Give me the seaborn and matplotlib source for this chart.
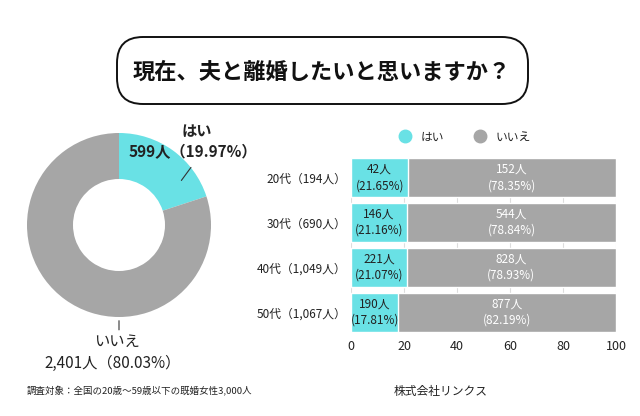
import seaborn as sns
import matplotlib.pyplot as plt
import pandas as pd
from matplotlib.patches import FancyBboxPatch
from matplotlib.lines import Line2D

# Data
pie_labels = ["はい", "いいえ"]
pie_counts = [599, 2401]
pie_pcts = [19.97, 80.03]

ages = ["20代（194人）", "30代（690人）", "40代（1,049人）", "50代（1,067人）"]
yes_counts = [42, 146, 221, 190]
no_counts = [152, 544, 828, 877]
yes_pct = [21.65, 21.16, 21.07, 17.81]
no_pct = [78.35, 78.84, 78.93, 82.19]

CYAN = "#69e1e5"
GRAY = "#a6a6a6"
DARK = "#222222"

sns.set_theme(style="white")
plt.rcParams["font.family"] = ["Noto Sans CJK JP", "DejaVu Sans"]

fig = plt.figure(figsize=(6.4, 4.16), dpi=100)
fig.patch.set_facecolor("white")

# Overlay in pixel coordinates for title box and footers
ov = fig.add_axes([0, 0, 1, 1])
ov.set_xlim(0, 640)
ov.set_ylim(416, 0)
ov.axis("off")
ov.add_patch(FancyBboxPatch((117, 37), 411, 67,
                            boxstyle="round,pad=0,rounding_size=26",
                            fc="white", ec="#111111", lw=1.4))
ov.text(322, 72, "現在、夫と離婚したいと思いますか？", ha="center", va="center",
        fontsize=16, fontweight="bold", color="#111111")
ov.text(27, 391, "調査対象：全国の20歳〜59歳以下の既婚女性3,000人",
        ha="left", va="center", fontsize=6.8, color=DARK)
ov.text(441, 392, "株式会社リンクス", ha="center", va="center",
        fontsize=8.5, color=DARK)

# Donut
axp = fig.add_axes([27 / 640, (416 - 317) / 416, 184 / 640, 184 / 416])
axp.pie(pie_counts, colors=[CYAN, GRAY], startangle=90, counterclock=False,
        wedgeprops=dict(width=0.5, edgecolor="none"))
axp.set_xlim(-1, 1)
axp.set_ylim(-1, 1)
axp.set_aspect("equal")
axp.annotate("", xy=(0.66, 0.46), xytext=(0.80, 0.65),
             arrowprops=dict(arrowstyle="-", color="#333333", lw=0.8),
             annotation_clip=False)
axp.text(0.85, 1.02, pie_labels[0], ha="center", va="center", fontsize=11,
         fontweight="bold", color=DARK, clip_on=False)
axp.text(0.80, 0.79, f"{pie_counts[0]}人（{pie_pcts[0]:.2f}%）", ha="center",
         va="center", fontsize=11, fontweight="bold", color=DARK, clip_on=False)
axp.annotate("", xy=(0, -1.17), xytext=(0, -1.01),
             arrowprops=dict(arrowstyle="-", color="#333333", lw=0.8),
             annotation_clip=False)
axp.text(-0.02, -1.27, pie_labels[1], ha="center", va="center", fontsize=11,
         color=DARK, clip_on=False)
axp.text(-0.07, -1.50, f"{pie_counts[1]:,}人（{pie_pcts[1]:.2f}%）", ha="center",
         va="center", fontsize=11, color=DARK, clip_on=False)

# Stacked horizontal bars
df = pd.DataFrame({"age": ages, "yes": yes_pct, "no": no_pct,
                   "yes_n": yes_counts, "no_n": no_counts})
df["total"] = df["yes"] + df["no"]

h = 0.87
axb = fig.add_axes([351 / 640, (416 - 332) / 416, 265 / 640, 174 / 416])
axb.set_axisbelow(True)
axb.grid(axis="x", color="#dddddd", lw=0.8)
sns.barplot(data=df, x="total", y="age", color=GRAY, orient="h",
            width=h, saturation=1, ax=axb)
sns.barplot(data=df, x="yes", y="age", color=CYAN, orient="h",
            width=h, saturation=1, ax=axb)
for i, r in df.iterrows():
    axb.text(r["yes"] / 2, i, f"{r['yes_n']}人\n({r['yes']:.2f}%)",
             ha="center", va="center", fontsize=8.5, color=DARK, linespacing=1.3)
    axb.text(r["yes"] + r["no"] / 2, i, f"{r['no_n']}人\n({r['no']:.2f}%)",
             ha="center", va="center", fontsize=8.5, color="white", linespacing=1.3)
axb.set_xlim(0, 100)
axb.set_ylim(3 + h / 2, -h / 2)
axb.set_xticks([0, 20, 40, 60, 80, 100])
axb.set_xlabel("")
axb.set_ylabel("")
axb.tick_params(axis="both", length=0, labelsize=8.5, colors=DARK)
axb.tick_params(axis="x", labelsize=9, pad=6)
for s in axb.spines.values():
    s.set_visible(False)

handles = [Line2D([], [], marker="o", ls="", color=c, markersize=9) for c in [CYAN, GRAY]]
fig.legend(handles, pie_labels, loc="center", bbox_to_anchor=(462 / 640, 1 - 137 / 416),
           ncol=2, frameon=False, fontsize=8.5, handletextpad=0.3, columnspacing=2.0)

plt.savefig("out.png", dpi=100)
